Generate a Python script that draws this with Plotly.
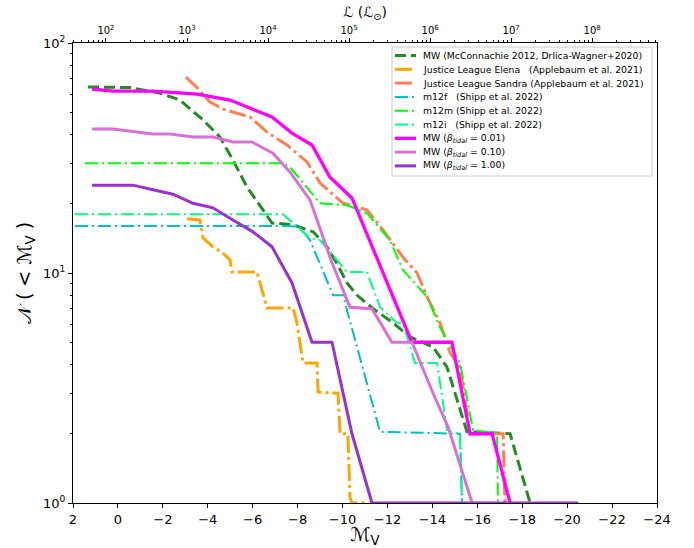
import plotly.graph_objects as go

# ---------------- data ----------------
mw_obs_M = [1.33, -0.54, -1.87, -2.76, -3.79, -4.54, -5.12, -5.75, -6.46, -6.86, -7.80, -8.69, -9.31, -9.75,
            -10.2, -10.65, -11.36, -12.25, -13.0, -14.03, -14.65, -15.54, -17.46, -18.35]
mw_obs_N = [64.4, 64, 60.6, 56.5, 46.3, 39, 31, 23.6, 18.8, 16.5, 16.2, 15.1, 13, 11,
            9.05, 8.0, 7.0, 6.07, 5.27, 4.77, 3.9, 2.04, 2, 1]

elena_M = [-3.08, -3.65, -3.79, -4.23, -4.68, -4.99, -5.08, -6.19, -6.64, -7.80, -7.97, -8.24, -8.86, -8.91,
           -9.80, -9.89, -10.24, -10.33, -10.42, -11.2]
elena_N = [17.2, 17.0, 14.2, 13.0, 12.2, 11.4, 10.1, 10.1, 7.05, 7.05, 6.07, 4.06, 4.06, 3.04,
           3.0, 2.0, 2.0, 1.06, 1.0, 1.0]

sandra_M = [-3.03, -3.52, -4.10, -4.68, -5.88, -6.64, -7.53, -8.42, -9.0, -10.02, -11.09, -11.80, -12.69,
            -13.32, -13.76, -14.34, -14.79, -15.23, -15.68, -17.15, -17.23]
sandra_N = [71, 64, 55.4, 51.6, 47.7, 41, 36, 30.4, 24.6, 20.1, 18.8, 15.4, 11.7,
            10, 7.9, 6.07, 4.5, 3.9, 2.0, 2.0, 1.0]

m12f_M = [1.91, -7.66, -8.1, -8.55, -9.58, -10.02, -11.67, -15.23, -15.32]
m12f_N = [16, 16, 15.8, 13.9, 8, 8, 2.04, 2, 1]

m12m_M = [1.47, -7.35, -7.66, -9.0, -10.2, -11.09, -12.11, -12.69, -13.76, -14.34, -15.23, -15.81, -16.88, -16.92]
m12m_N = [30, 30, 28.9, 20.1, 19.7, 18.2, 13.9, 10.3, 7.9, 5.8, 4.06, 2.08, 2, 1]

m12i_M = [1.91, -7.35, -8.55, -9.0, -10.2, -11.09, -11.67, -12.42, -12.69, -13.14, -13.23, -14.21, -14.65,
          -15.23, -15.32]
m12i_N = [18, 18, 14.2, 13.9, 10.1, 10.1, 7.1, 6.07, 6.07, 4.3, 4.06, 4.06, 2.08, 2, 1]

b001_M = [1.15, 0.22, -1.56, -3.52, -4.99, -5.88, -6.86, -7.75, -8.64, -9.44, -10.42, -13.09, -14.87,
          -15.68, -16.66, -17.46]
b001_N = [63.1, 61.8, 61.8, 60, 56.5, 52.1, 47.7, 40.6, 36, 26.1, 21.2, 5.0, 5.0, 2.0, 2.0, 1.0]

b010_M = [1.15, 0.22, -1.56, -2.32, -3.34, -4.23, -5.12, -5.97, -6.90, -7.66, -8.55, -9.53, -10.33,
          -11.31, -12.20, -13.09, -14.03, -14.70, -15.77]
b010_N = [42.3, 42.3, 40.2, 40.2, 39, 39, 37.1, 37.1, 33.2, 27.5, 20.8, 11.1, 7.1,
          7.0, 5.0, 5.0, 3.0, 2.14, 1.0]

b100_M = [1.15, -0.67, -1.56, -2.45, -3.34, -4.23, -5.12, -6.01, -6.86, -7.75, -8.64, -9.53, -10.42,
          -11.31, -20.5]
b100_N = [24.1, 24.1, 23, 22, 20.1, 19.2, 17, 15.1, 13, 9.05, 5.0, 5.0, 2.0, 1.0, 1.0]

x_ticks = list(range(2, -25, -2))
x_ticktext = [str(v).replace("-", "\u2212") for v in x_ticks]
y_ticks = [1, 10, 100]
y_ticktext = ["10<sup>0</sup>", "10<sup>1</sup>", "10<sup>2</sup>"]
top_ticks = [1e2, 1e3, 1e4, 1e5, 1e6, 1e7, 1e8]
top_ticktext = ["10<sup>%d</sup>" % e for e in range(2, 9)]
top_range = [1.593, 8.80]

FONT = "DejaVu Sans"
SP3 = "&nbsp;&nbsp;&nbsp;"

series = [
    ("MW (McConnachie 2012, Drlica-Wagner+2020)", mw_obs_M, mw_obs_N, "#228B22", 3.0, "11px,5px"),
    ("Justice League Elena" + SP3 + "(Applebaum et al. 2021)", elena_M, elena_N, "#FFA500", 3.0, "17px,4px,3px,4px"),
    ("Justice League Sandra (Applebaum et al. 2021)", sandra_M, sandra_N, "#FF7F50", 3.0, "17px,4px,3px,4px"),
    ("m12f" + SP3 + "(Shipp et al. 2022)", m12f_M, m12f_N, "#00BFBF", 2.0, "13px,4px,2px,4px"),
    ("m12m (Shipp et al. 2022)", m12m_M, m12m_N, "#00FF00", 2.0, "13px,4px,2px,4px"),
    ("m12i" + SP3 + "(Shipp et al. 2022)", m12i_M, m12i_N, "#00FF7F", 2.0, "13px,4px,2px,4px"),
    ("MW (<i>β</i><sub><i>tidal</i></sub> = 0.01)", b001_M, b001_N, "#FF00FF", 3.3, "solid"),
    ("MW (<i>β</i><sub><i>tidal</i></sub> = 0.10)", b010_M, b010_N, "#DA70D6", 3.0, "solid"),
    ("MW (<i>β</i><sub><i>tidal</i></sub> = 1.00)", b100_M, b100_N, "#9932CC", 3.0, "solid"),
]

# ---------------- layout geometry (pixels) ----------------
W, H = 694, 548
L, R, T, B = 73, 37, 43, 45
PW, PH = W - L - R, H - T - B


def px(x):
    return (x - L) / PW


def py(y):
    return (H - B - y) / PH


fig = go.Figure()
for name, xs, ys, col, w, dash in series:
    fig.add_trace(go.Scatter(x=xs, y=ys, mode="lines", name=name, showlegend=False,
                             line=dict(color=col, width=w, dash=dash)))

# empty trace to attach the top luminosity axis
fig.add_trace(go.Scatter(x=[None], y=[None], xaxis="x2", showlegend=False, hoverinfo="skip"))

# ---------------- custom compact legend ----------------
leg_left, leg_right, leg_top, leg_bot = 392, 652, 47, 176
row0, row_dy = 55.5, 13.8
shapes = [dict(type="rect", xref="paper", yref="paper",
               x0=px(leg_left), x1=px(leg_right), y0=py(leg_bot), y1=py(leg_top),
               line=dict(color="#cccccc", width=1), fillcolor="rgba(255,255,255,0.8)", layer="above")]
annotations = []
for i, (name, xs, ys, col, w, dash) in enumerate(series):
    yc = row0 + i * row_dy
    shapes.append(dict(type="line", xref="paper", yref="paper",
                       x0=px(395), x1=px(416), y0=py(yc), y1=py(yc),
                       line=dict(color=col, width=w, dash=dash), layer="above"))
    annotations.append(dict(xref="paper", yref="paper", x=px(421), y=py(yc),
                            xanchor="left", yanchor="middle", showarrow=False,
                            text=name, font=dict(size=9.3, family=FONT, color="black")))

minor_y = [m * 10 ** e for e in range(0, 2) for m in range(2, 10)]
minor_top = [m * 10 ** e for e in range(1, 9) for m in range(2, 10)]

fig.update_layout(
    width=W, height=H,
    margin=dict(l=L, r=R, t=T, b=B, autoexpand=False),
    paper_bgcolor="white", plot_bgcolor="white",
    font=dict(family=FONT, size=12, color="black"),
    xaxis=dict(range=[2, -24], tickvals=x_ticks, ticktext=x_ticktext,
               ticks="outside", ticklen=4, tickwidth=1, tickcolor="black",
               showline=True, linecolor="black", linewidth=1, mirror=False,
               showgrid=False, zeroline=False, tickfont=dict(size=13), automargin=False,
               title=dict(text="ℳ<sub>V</sub>", font=dict(size=19), standoff=12)),
    yaxis=dict(type="log", range=[0, 2], tickvals=y_ticks, ticktext=y_ticktext,
               ticks="outside", ticklen=4, tickwidth=1, tickcolor="black",
               minor=dict(tickvals=minor_y, ticks="outside", ticklen=2, tickcolor="black"),
               showline=True, linecolor="black", linewidth=1, mirror=True,
               showgrid=False, zeroline=False, tickfont=dict(size=13), automargin=False,
               title=dict(text="𝒩 ( < ℳ<sub>V</sub> )", font=dict(size=19), standoff=6)),
    xaxis2=dict(type="log", overlaying="x", side="top", range=top_range,
                tickvals=top_ticks, ticktext=top_ticktext,
                ticks="outside", ticklen=4, tickwidth=1, tickcolor="black",
                minor=dict(tickvals=minor_top, ticks="outside", ticklen=2, tickcolor="black"),
                showline=True, linecolor="black", linewidth=1, automargin=False,
                showgrid=False, zeroline=False, tickfont=dict(size=10),
                title=dict(text="ℒ (ℒ<sub>⊙</sub>)", font=dict(size=14), standoff=2)),
    shapes=shapes,
    annotations=annotations,
    showlegend=False,
)

fig.write_html("out.html")
